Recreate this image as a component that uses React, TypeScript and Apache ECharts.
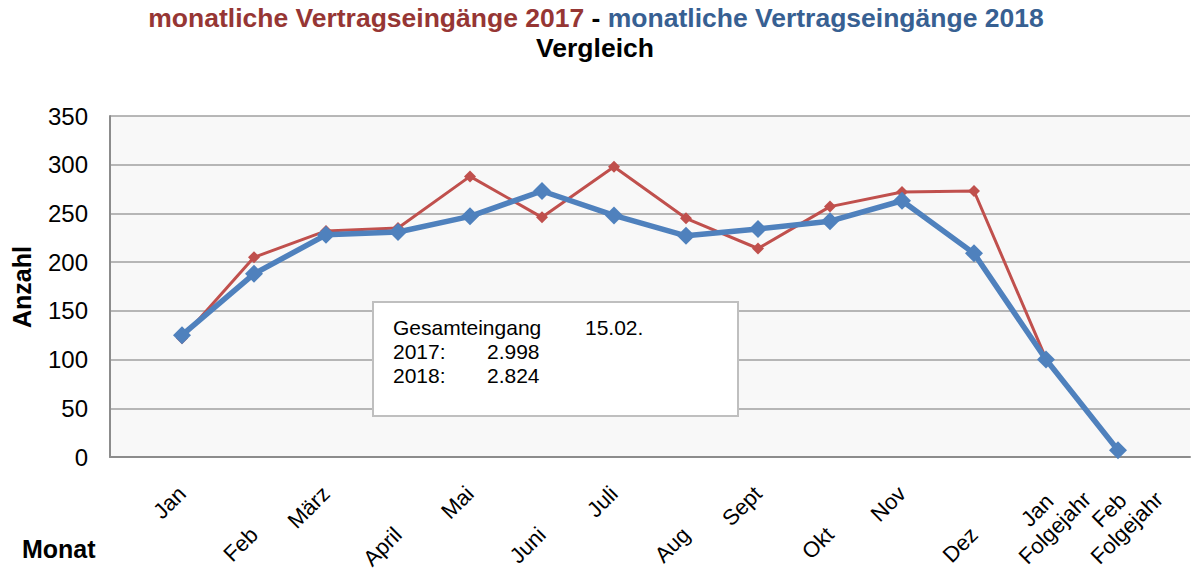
import React, { useEffect, useRef } from "react";
import * as echarts from "echarts";

const categories = ["", "Jan", "Feb", "März", "April", "Mai", "Juni", "Juli", "Aug", "Sept", "Okt", "Nov", "Dez", "Jan\nFolgejahr", "Feb\nFolgejahr", ""];
const values2017 = [null, 122, 205, 232, 235, 288, 246, 298, 245, 214, 257, 272, 273, 101, null, null];
const values2018 = [null, 125, 188, 228, 231, 247, 273, 248, 227, 234, 242, 263, 209, 100, 7, null];
const yTicks = { min: 0, max: 350, interval: 50 };
const titleLine1a = "monatliche Vertragseingänge 2017";
const titleLine1b = "monatliche Vertragseingänge 2018";
const titleLine2 = "Vergleich";
const yName = "Anzahl";
const xName = "Monat";
const boxTitle = "Gesamteingang";
const boxDate = "15.02.";
const boxRows = [
  ["2017:", "2.998"],
  ["2018:", "2.824"],
];

const FONT = "'Liberation Sans', Arial, Helvetica, sans-serif";
const RED = "#C0504D";
const BLUE = "#4F81BD";

const isMultiLine = (v: string) => v.indexOf("\n") >= 0;

export default function App() {
  const ref = useRef<HTMLDivElement>(null);
  useEffect(() => {
    if (!ref.current) return;
    const chart = echarts.init(ref.current, null, { renderer: "svg" });
    const labelBase = {
      interval: 0,
      rotate: 45,
      fontSize: 22,
      color: "#000",
      fontFamily: FONT,
      lineHeight: 25,
    };
    const hiddenAxis = {
      type: "category",
      data: categories,
      boundaryGap: false,
      position: "bottom",
      axisLine: { show: false },
      axisTick: { show: false },
      splitLine: { show: false },
    };
    const tFont = `bold 26.5px ${FONT}`;
    chart.setOption({
      animation: false,
      backgroundColor: "#fff",
      grid: {
        left: 110,
        right: 2,
        top: 116,
        bottom: 114,
        show: true,
        backgroundColor: "#F8F8F8",
        borderWidth: 0,
        containLabel: false,
        outerBoundsMode: "none",
      },
      xAxis: [
        {
          ...hiddenAxis,
          axisLine: { show: true, lineStyle: { color: "#8c8c8c", width: 2 } },
          axisLabel: {
            ...labelBase,
            margin: 33,
            formatter: (v: string, i: number) => (i % 2 === 1 && !isMultiLine(v) ? v : ""),
          },
        },
        {
          ...hiddenAxis,
          offset: 41,
          axisLabel: {
            ...labelBase,
            margin: 33,
            formatter: (v: string, i: number) => (i % 2 === 0 && !isMultiLine(v) ? v : ""),
          },
        },
        {
          ...hiddenAxis,
          axisLabel: {
            ...labelBase,
            margin: 62,
            align: "center",
            verticalAlign: "middle",
            formatter: (v: string) => (isMultiLine(v) ? v : ""),
          },
        },
      ],
      yAxis: {
        type: "value",
        min: yTicks.min,
        max: yTicks.max,
        interval: yTicks.interval,
        axisLine: { show: true, lineStyle: { color: "#8c8c8c", width: 2 } },
        axisTick: { show: false },
        splitLine: { show: true, lineStyle: { color: "#a0a0a0", width: 1.5 } },
        axisLabel: { fontSize: 24, color: "#000", fontFamily: FONT, margin: 22 },
      },
      series: [
        {
          name: "2017",
          type: "line",
          data: values2017,
          xAxisIndex: 0,
          symbol: "diamond",
          symbolSize: 12,
          lineStyle: { color: RED, width: 3 },
          itemStyle: { color: RED },
          z: 2,
        },
        {
          name: "2018",
          type: "line",
          data: values2018,
          xAxisIndex: 0,
          symbol: "diamond",
          symbolSize: 18,
          lineStyle: { color: BLUE, width: 5.5 },
          itemStyle: { color: BLUE },
          z: 3,
        },
      ],
      graphic: [
        {
          type: "text",
          x: 596,
          y: 18,
          style: {
            text: `{a|${titleLine1a}} {b|-} {c|${titleLine1b}}`,
            font: tFont,
            align: "center",
            verticalAlign: "middle",
            rich: {
              a: { fill: "#963634", font: tFont },
              b: { fill: "#000", font: tFont },
              c: { fill: "#376092", font: tFont },
            },
          },
        },
        {
          type: "text",
          x: 595,
          y: 48,
          style: { text: titleLine2, font: tFont, fill: "#000", align: "center", verticalAlign: "middle" },
        },
        {
          type: "text",
          x: 22,
          y: 287,
          rotation: Math.PI / 2,
          style: {
            text: yName,
            font: `bold 25px ${FONT}`,
            fill: "#000",
            align: "center",
            verticalAlign: "middle",
          },
        },
        {
          type: "text",
          x: 22,
          y: 549,
          style: {
            text: xName,
            font: `bold 25px ${FONT}`,
            fill: "#000",
            align: "left",
            verticalAlign: "middle",
          },
        },
        {
          type: "rect",
          shape: { x: 373, y: 302, width: 365, height: 114 },
          style: { fill: "#fff", stroke: "#bfbfbf", lineWidth: 2 },
          z: 10,
        },
        {
          type: "text",
          x: 393,
          y: 327,
          z: 11,
          style: { text: boxTitle, font: `21px ${FONT}`, fill: "#000", verticalAlign: "middle" },
        },
        {
          type: "text",
          x: 585,
          y: 327,
          z: 11,
          style: { text: boxDate, font: `21px ${FONT}`, fill: "#000", verticalAlign: "middle" },
        },
        ...boxRows.flatMap((row, i) => [
          {
            type: "text",
            x: 393,
            y: 351 + i * 24,
            z: 11,
            style: { text: row[0], font: `21px ${FONT}`, fill: "#000", verticalAlign: "middle" },
          },
          {
            type: "text",
            x: 487,
            y: 351 + i * 24,
            z: 11,
            style: { text: row[1], font: `21px ${FONT}`, fill: "#000", verticalAlign: "middle" },
          },
        ]),
      ],
    });
    return () => chart.dispose();
  }, []);
  return <div ref={ref} style={{ width: 1192, height: 571, position: "absolute", left: 0, top: 0 }} />;
}
